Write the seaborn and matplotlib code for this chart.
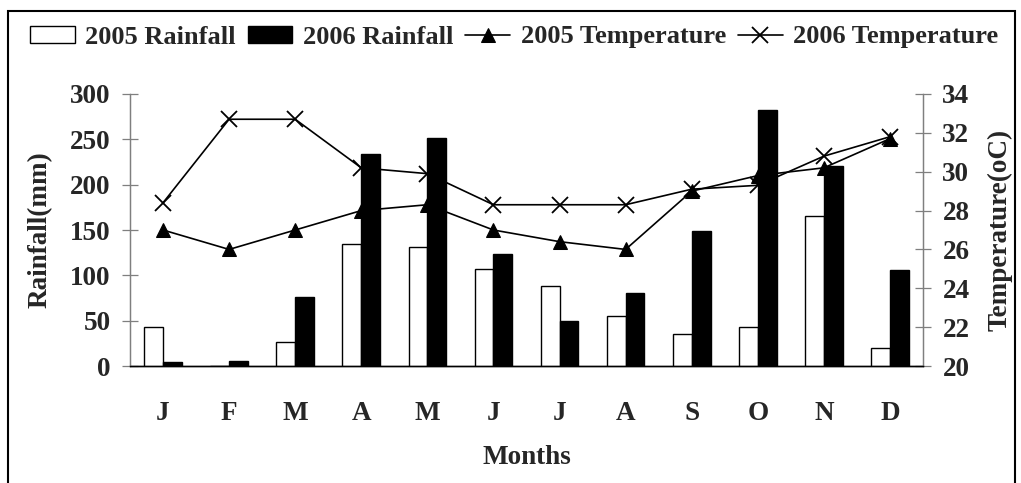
import numpy as np
import pandas as pd
import matplotlib.pyplot as plt
import matplotlib.patches as mpatches
import seaborn as sns

# -----------------------------
# DATA
# -----------------------------
months = ["J", "F", "M", "A", "M", "J", "J", "A", "S", "O", "N", "D"]

rain_2005 = [43, 0, 26, 135, 131, 107, 88, 55, 35, 43, 165, 20]
rain_2006 = [4, 6, 76, 234, 252, 124, 50, 80, 149, 282, 221, 106]

temp_2005 = [27.0, 26.0, 27.0, 28.0, 28.3, 27.0, 26.4, 26.0, 29.0, 29.8, 30.2, 31.7]
temp_2006 = [28.4, 32.7, 32.7, 30.2, 29.9, 28.3, 28.3, 28.3, 29.1, 29.3, 30.8, 31.8]

rain_df = pd.DataFrame({
    "pos": list(range(12)) * 2,
    "Rainfall": rain_2005 + rain_2006,
    "Year": ["2005 Rainfall"] * 12 + ["2006 Rainfall"] * 12,
})

sns.set_style("white")
plt.rcParams["font.family"] = ["Liberation Serif", "DejaVu Serif"]
plt.rcParams["font.weight"] = "bold"

fig = plt.figure(figsize=(10.21, 4.83), dpi=100)
ax = fig.add_axes([0.1273, 0.2422, 0.7767, 0.5632])
ax2 = ax.twinx()

# bars are drawn in front of the lines
ax.set_zorder(ax2.get_zorder() + 1)
ax.patch.set_visible(False)

# -----------------------------
# TEMPERATURE LINES (right axis)
# -----------------------------
sns.lineplot(
    x=np.arange(12), y=temp_2005, ax=ax2,
    color="black", linewidth=1.2, marker="^", markersize=10,
    markeredgecolor="black", markerfacecolor="black",
    label="2005 Temperature", legend=False,
)
sns.lineplot(
    x=np.arange(12), y=temp_2006, ax=ax2,
    color="black", linewidth=1.2, marker="x", markersize=11,
    markeredgewidth=1.3, markeredgecolor="black",
    label="2006 Temperature", legend=False,
)

# -----------------------------
# RAINFALL BARS (left axis)
# -----------------------------
sns.barplot(
    data=rain_df, x="pos", y="Rainfall", hue="Year",
    palette={"2005 Rainfall": "white", "2006 Rainfall": "black"},
    edgecolor="black", linewidth=1.0, width=0.57, ax=ax,
)
if ax.get_legend() is not None:
    ax.get_legend().remove()

ax.set_xlim(-0.5, 11.5)
ax.set_ylim(0, 300)
ax2.set_ylim(20, 34)
ax.set_yticks(range(0, 301, 50))
ax2.set_yticks(range(20, 35, 2))

ax.set_xticks(range(12))
ax.set_xticklabels(months)
ax.set_xticks(np.arange(-0.5, 12, 1), minor=True)

fs = 19.5
grey = "#7f7f7f"
ax.tick_params(axis="x", which="major", length=0, pad=25, labelsize=fs)
ax.tick_params(axis="x", which="minor", direction="inout", length=13,
               width=0.9, color=grey)
ax.tick_params(axis="y", direction="inout", length=12, width=0.9,
               color=grey, pad=8, labelsize=fs)
ax2.tick_params(axis="y", direction="inout", length=12, width=0.9,
                color=grey, pad=8, labelsize=fs)

for a in (ax, ax2):
    a.spines["top"].set_visible(False)
    a.spines["left"].set_color(grey)
    a.spines["right"].set_color(grey)
    a.spines["bottom"].set_color("black")
    a.spines["left"].set_linewidth(0.9)
    a.spines["right"].set_linewidth(0.9)
    a.spines["bottom"].set_linewidth(1.0)
    for lab in a.get_xticklabels() + a.get_yticklabels():
        lab.set_fontweight("bold")

ax.set_ylabel("Rainfall(mm)", fontsize=fs, fontweight="bold")
ax.yaxis.set_label_coords(-0.097, 0.5)
ax2.set_ylabel("Temperature(oC)", fontsize=fs, fontweight="bold")
ax2.yaxis.set_label_coords(1.081, 0.5)
ax.set_xlabel("Months", fontsize=fs, fontweight="bold")
ax.xaxis.set_label_coords(0.5006, -0.292)

# -----------------------------
# LEGEND
# -----------------------------
h2, l2 = ax2.get_legend_handles_labels()
handles = [
    mpatches.Patch(facecolor="white", edgecolor="black", linewidth=1.0),
    mpatches.Patch(facecolor="black", edgecolor="black", linewidth=1.0),
] + h2
labels = ["2005 Rainfall", "2006 Rainfall"] + l2
fig.legend(
    handles, labels, loc="center", bbox_to_anchor=(514 / 1021, 1 - 37 / 483),
    ncol=4, frameon=False, handlelength=1.7, handleheight=0.6,
    handletextpad=0.4, columnspacing=0.45,
    prop={"size": 19, "weight": "bold"},
)

# outer frame
frame = mpatches.Rectangle(
    (8 / 1021, -0.05), (1015 - 8) / 1021, 1.05 - 11 / 483,
    transform=fig.transFigure, fill=False, edgecolor="black", linewidth=1.5,
)
fig.patches.append(frame)

fig.savefig("out.png", dpi=100)
